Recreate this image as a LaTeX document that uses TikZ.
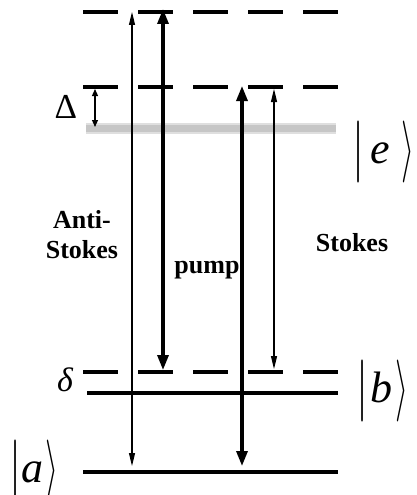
\documentclass[tikz,border=0pt]{standalone}
\usepackage{fontspec}
\setmainfont{Liberation Serif}
\usetikzlibrary{arrows.meta}
\newcommand{\kbar}{\raisebox{-4.5pt}{\resizebox*{12pt}{62pt}{$|$}}}
\newcommand{\kang}{\raisebox{-4.5pt}{\resizebox*{13pt}{62pt}{$\rangle$}}}
\begin{document}
\begin{tikzpicture}[x=1pt,y=-1pt,
  level/.style={line width=3.6pt},
  dlevel/.style={line width=3.8pt, dash pattern=on 35pt off 20pt},
  thinarr/.style={line width=1.2pt, {Triangle[length=13pt,width=6pt]}-{Triangle[length=13pt,width=6pt]}},
  thickarr/.style={line width=3.2pt, {Triangle[length=15pt,width=11pt]}-{Triangle[length=15pt,width=11pt]}},
  lbl/.style={font=\bfseries\fontsize{26}{28}\selectfont, inner sep=0pt},
  ket/.style={font=\fontsize{44}{46}\selectfont, inner sep=0pt, anchor=base west}]
\useasboundingbox (0,0) rectangle (417,495);
% levels
\coordinate (t1) at (83,12);   \coordinate (t2) at (340,12);
\coordinate (m1) at (83,87);   \coordinate (m2) at (340,87);
\coordinate (e1) at (86,128);  \coordinate (e2) at (336,128);
\coordinate (d1) at (83,372);  \coordinate (d2) at (340,372);
\coordinate (b1) at (87,393);  \coordinate (b2) at (338,393);
\coordinate (a1) at (83,472);  \coordinate (a2) at (338,472);
\draw[dlevel] (t1) -- (t2);
\draw[dlevel] (m1) -- (m2);
\draw[line width=11pt, gray!25] (e1) -- (e2);
\draw[line width=7pt, gray!45] (e1) -- (e2);
\draw[dlevel] (d1) -- (d2);
\draw[level] (b1) -- (b2);
\draw[level] (a1) -- (a2);
% arrow end points
\coordinate (A1) at (132,12);  \coordinate (A2) at (132,466);
\coordinate (B1) at (163,9);   \coordinate (B2) at (163,370);
\coordinate (C1) at (242,86);  \coordinate (C2) at (242,466);
\coordinate (D1) at (274,89);  \coordinate (D2) at (274,369);
\coordinate (Q1) at (95,89);   \coordinate (Q2) at (95,127);
\draw[thinarr] (A1) -- (A2);
\draw[thickarr] (B1) -- (B2);
\draw[thickarr] (C1) -- (C2);
\draw[thinarr] (D1) -- (D2);
\draw[line width=1.2pt, {Triangle[length=7pt,width=6pt]}-{Triangle[length=7pt,width=6pt]}] (Q1) -- (Q2);
% labels
\node[lbl, anchor=base] (anti) at (82,228) {Anti-};
\node[lbl, anchor=base] (stl) at (82,258) {Stokes};
\node[lbl, anchor=base] (pump) at (207,273) {pump};
\node[lbl, anchor=base] (str) at (352,251) {Stokes};
\node[font=\fontsize{35}{37}\selectfont, inner sep=0pt, anchor=base] (Delta) at (66,118) {Δ};
\node[font=\itshape\fontsize{34}{36}\selectfont, inner sep=0pt, anchor=base] (delta) at (65,391) {δ};
\node[ket] (ke) at (352,163) {\kbar\kern6pt\textit{e}\kern12pt\kang};
\node[ket] (kb) at (356,402) {\kbar\kern2pt\textit{b}\kern3pt\kang};
\node[ket] (ka) at (9,482) {\kbar\textit{a}\kern2pt\kang};
\end{tikzpicture}
\end{document}
